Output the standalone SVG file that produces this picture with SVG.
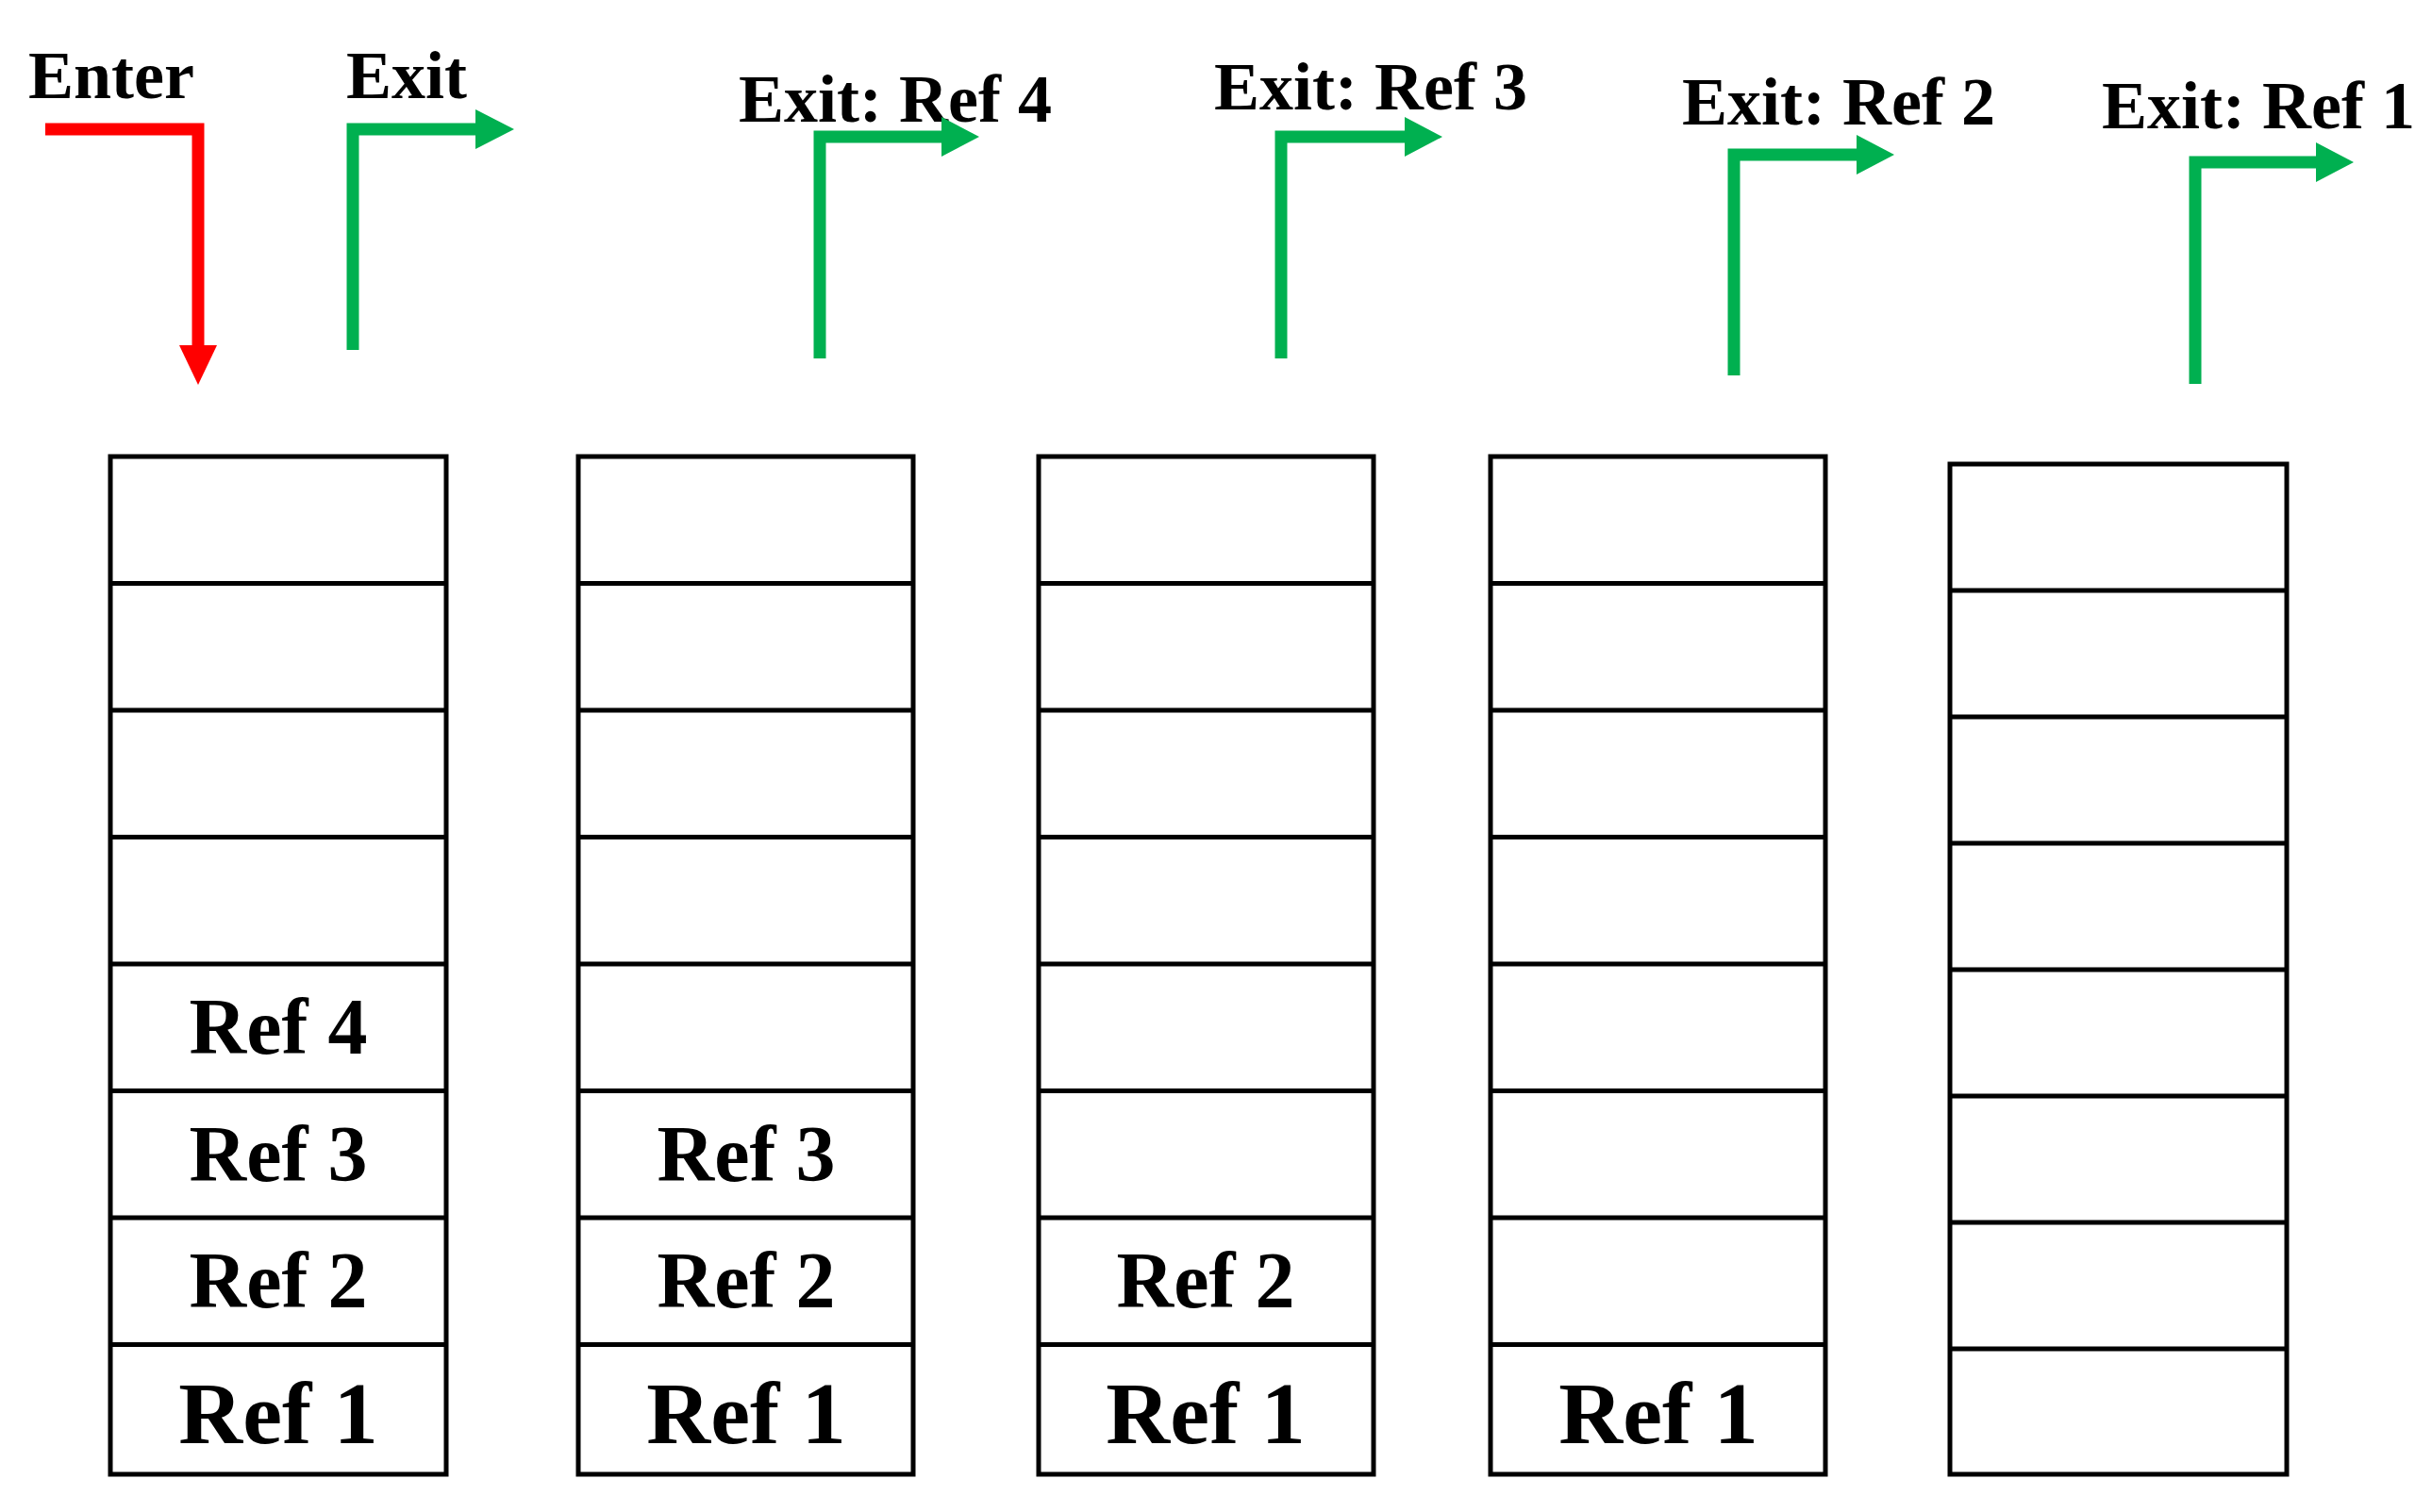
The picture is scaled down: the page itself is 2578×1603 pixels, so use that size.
<svg xmlns="http://www.w3.org/2000/svg" width="2578" height="1603" viewBox="0 0 2578 1603">
<style>
.cell{fill:#fff;stroke:#000;stroke-width:5}
.t{font-family:"Liberation Serif",serif;font-weight:bold;fill:#000}
.lab{font-size:84px;text-anchor:middle}
.big{font-size:94px}
.top{font-size:72px}
.g{stroke:#00B050;stroke-width:13;fill:none}
.r{stroke:#FF0000;stroke-width:13;fill:none}
</style>
<rect width="2578" height="1603" fill="#fff"/>
<g id="labels">
<text class="t top" x="30" y="104">Enter</text>
<text class="t top" x="367" y="104">Exit</text>
<text class="t top" x="783" y="129">Exit: Ref 4</text>
<text class="t top" x="1287" y="116">Exit: Ref 3</text>
<text class="t top" x="1783" y="132">Exit: Ref 2</text>
<text class="t top" x="2228" y="136">Exit: Ref 1</text>
</g>
<g id="connectors">
<path class="r" d="M48,137 H210 V368"/>
<polygon fill="#FF0000" points="190,366 230,366 210,408"/>
<path class="g" d="M374,371 V137 H506"/>
<polygon fill="#00B050" points="504,116 545,137 504,158"/>
<path class="g" d="M869,380 V145 H1000"/>
<polygon fill="#00B050" points="998,124 1038,145 998,166"/>
<path class="g" d="M1358,380 V145 H1491"/>
<polygon fill="#00B050" points="1489,124 1529,145 1489,166"/>
<path class="g" d="M1838,398 V164 H1970"/>
<polygon fill="#00B050" points="1968,143 2008,164 1968,185"/>
<path class="g" d="M2327,407 V172 H2457"/>
<polygon fill="#00B050" points="2455,151 2495,172 2455,193"/>
</g>
<g id="stack1">
<rect class="cell" x="117" y="484" width="356" height="1079"/>
<path class="cell" d="M117,618.5H473M117,753H473M117,887.5H473M117,1022H473M117,1156.5H473M117,1291H473M117,1425.5H473"/>
<text class="t lab" x="295" y="1117">Ref 4</text>
<text class="t lab" x="295" y="1252">Ref 3</text>
<text class="t lab" x="295" y="1386">Ref 2</text>
<text class="t lab big" x="295" y="1530">Ref 1</text>
</g>
<g id="stack2">
<rect class="cell" x="613" y="484" width="355" height="1079"/>
<path class="cell" d="M613,618.5H968M613,753H968M613,887.5H968M613,1022H968M613,1156.5H968M613,1291H968M613,1425.5H968"/>
<text class="t lab" x="791" y="1252">Ref 3</text>
<text class="t lab" x="791" y="1386">Ref 2</text>
<text class="t lab big" x="791" y="1530">Ref 1</text>
</g>
<g id="stack3">
<rect class="cell" x="1101" y="484" width="355" height="1079"/>
<path class="cell" d="M1101,618.5H1456M1101,753H1456M1101,887.5H1456M1101,1022H1456M1101,1156.5H1456M1101,1291H1456M1101,1425.5H1456"/>
<text class="t lab" x="1278" y="1386">Ref 2</text>
<text class="t lab big" x="1278" y="1530">Ref 1</text>
</g>
<g id="stack4">
<rect class="cell" x="1580" y="484" width="355" height="1079"/>
<path class="cell" d="M1580,618.5H1935M1580,753H1935M1580,887.5H1935M1580,1022H1935M1580,1156.5H1935M1580,1291H1935M1580,1425.5H1935"/>
<text class="t lab big" x="1758" y="1530">Ref 1</text>
</g>
<g id="stack5">
<rect class="cell" x="2067" y="492" width="357" height="1071"/>
<path class="cell" d="M2067,626H2424M2067,760H2424M2067,894H2424M2067,1028H2424M2067,1162H2424M2067,1296H2424M2067,1430H2424"/>
</g>
</svg>
